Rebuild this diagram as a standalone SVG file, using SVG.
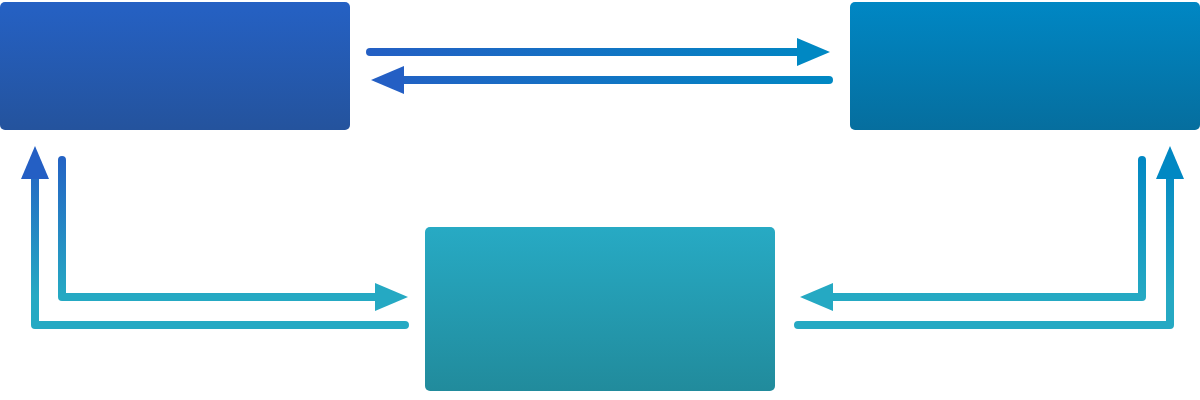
<svg xmlns="http://www.w3.org/2000/svg" width="1200" height="400" viewBox="0 0 1200 400">
<defs>
<linearGradient id="gA" x1="0" y1="0" x2="0" y2="1"><stop offset="0" stop-color="#2561C4"/><stop offset="1" stop-color="#24539D"/></linearGradient>
<linearGradient id="gB" x1="0" y1="0" x2="0" y2="1"><stop offset="0" stop-color="#0087C4"/><stop offset="1" stop-color="#066E9E"/></linearGradient>
<linearGradient id="gC" x1="0" y1="0" x2="0" y2="1"><stop offset="0" stop-color="#27AAC4"/><stop offset="1" stop-color="#218B9C"/></linearGradient>
<linearGradient id="gH" gradientUnits="userSpaceOnUse" x1="366" y1="0" x2="834" y2="0"><stop offset="0" stop-color="#245FC4"/><stop offset="1" stop-color="#0088C3"/></linearGradient>
<linearGradient id="gVL" gradientUnits="userSpaceOnUse" x1="0" y1="150" x2="0" y2="295"><stop offset="0" stop-color="#245FC4"/><stop offset="1" stop-color="#25A9C3"/></linearGradient>
<linearGradient id="gVR" gradientUnits="userSpaceOnUse" x1="0" y1="150" x2="0" y2="295"><stop offset="0" stop-color="#0086C3"/><stop offset="1" stop-color="#25A9C3"/></linearGradient>
<marker id="mBlue" markerUnits="userSpaceOnUse" markerWidth="34" markerHeight="28" refX="0" refY="14" orient="auto" overflow="visible"><path d="M0,0 L33,14 L0,28 z" fill="#245FC4"/></marker>
<marker id="mCyan" markerUnits="userSpaceOnUse" markerWidth="34" markerHeight="28" refX="0" refY="14" orient="auto" overflow="visible"><path d="M0,0 L33,14 L0,28 z" fill="#0088C3"/></marker>
<marker id="mTeal" markerUnits="userSpaceOnUse" markerWidth="34" markerHeight="28" refX="0" refY="14" orient="auto" overflow="visible"><path d="M0,0 L33,14 L0,28 z" fill="#25A9C3"/></marker>
</defs>
<style>
.c{fill:none;stroke-width:8;stroke-linecap:round;stroke-linejoin:round}
</style>
<g id="node-a"><rect x="0" y="2" width="350" height="128" rx="5" fill="url(#gA)"/></g>
<g id="node-b"><rect x="850" y="2" width="350" height="128" rx="5" fill="url(#gB)"/></g>
<g id="node-c"><rect x="425" y="227" width="350" height="164" rx="5" fill="url(#gC)"/></g>
<g id="connectors">
<path class="c" d="M370,52 H797" stroke="url(#gH)" marker-end="url(#mCyan)"/>
<path class="c" d="M829,80 H404" stroke="url(#gH)" marker-end="url(#mBlue)"/>
<path class="c" d="M62,160 V297 H375" stroke="url(#gVL)" marker-end="url(#mTeal)"/>
<path class="c" d="M405,325 H35 V179" stroke="url(#gVL)" marker-end="url(#mBlue)"/>
<path class="c" d="M1142,160 V297 H833" stroke="url(#gVR)" marker-end="url(#mTeal)"/>
<path class="c" d="M798,325 H1170 V179" stroke="url(#gVR)" marker-end="url(#mCyan)"/>
</g>
</svg>
